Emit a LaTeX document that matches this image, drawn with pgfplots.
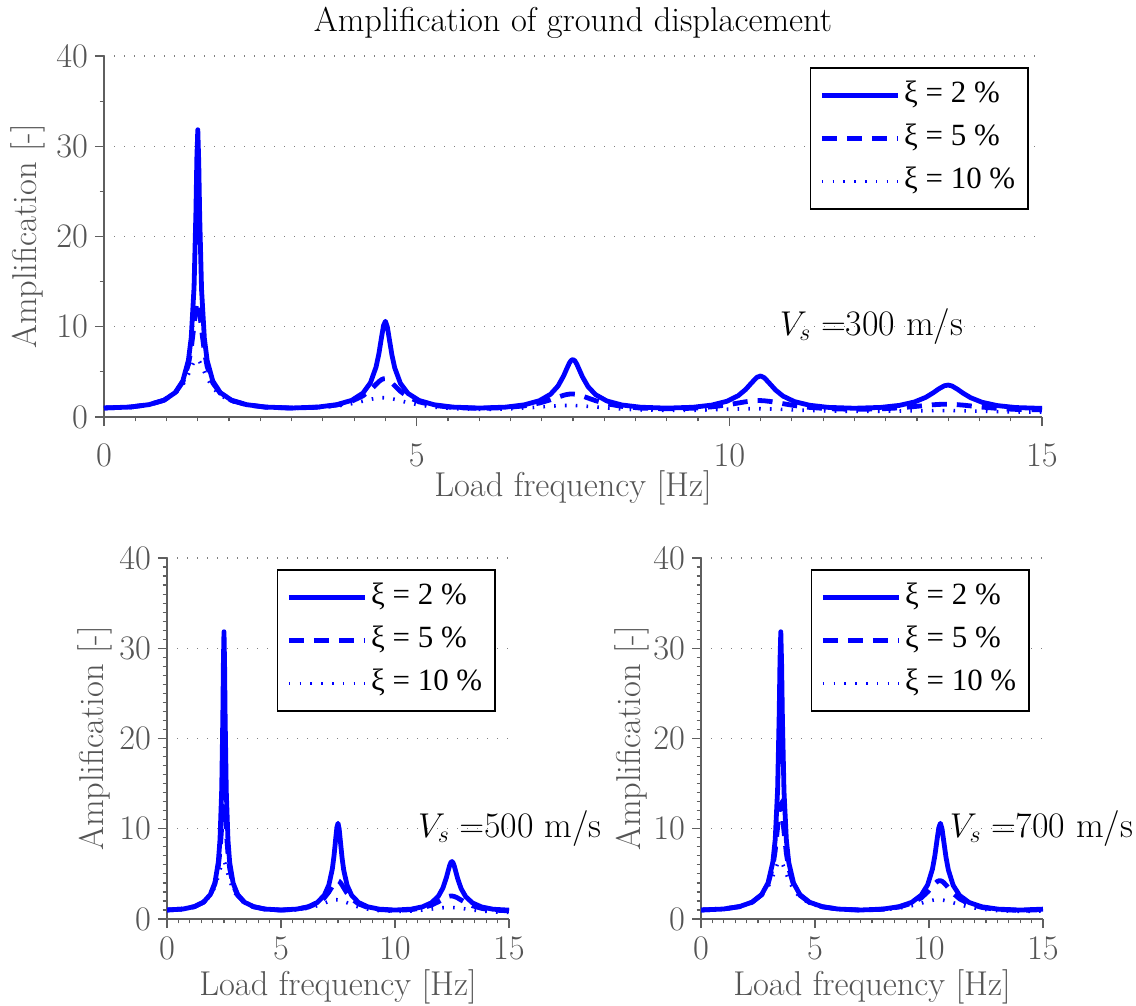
\documentclass[border=0pt]{standalone}
\usepackage{fontspec}
\usepackage{pgfplots}
\usepackage{pgfplotstable}
\pgfplotsset{compat=1.18}
\newfontfamily\timesfont{Liberation Serif}

\definecolor{axgray}{RGB}{95,95,95}
\definecolor{labgray}{RGB}{85,85,85}

% amplification |F| sampled at kH/pi = t ; f3, f5, f7 = load frequency for Vs = 300, 500, 700 m/s
\pgfplotstableread{
t f3 f5 f7 a2 a5 a10
0 0 0 0 1 1 1
0.14 0.42 0.70 0.98 1.1051 1.1049 1.1039
0.24 0.72 1.20 1.68 1.3715 1.3700 1.3645
0.32 0.96 1.60 2.24 1.8650 1.8581 1.8343
0.38 1.14 1.90 2.66 2.7108 2.6814 2.5840
0.42 1.26 2.10 2.94 3.9986 3.8866 3.5521
0.45 1.35 2.25 3.15 6.2905 5.8254 4.7427
0.465 1.395 2.325 3.255 8.806 7.586 5.473
0.48 1.44 2.40 3.36 14.356 10.191 6.122
0.49 1.47 2.45 3.43 22.736 12.029 6.365
0.495 1.485 2.475 3.465 28.70 12.606 6.398
0.5 1.5 2.5 3.5 31.831 12.732 6.366
0.505 1.515 2.525 3.535 28.245 12.366 6.273
0.51 1.53 2.55 3.57 22.286 11.621 6.125
0.52 1.56 2.60 3.64 14.128 9.706 5.714
0.535 1.605 2.675 3.745 8.713 7.235 4.982
0.55 1.65 2.75 3.85 6.242 5.596 4.290
0.58 1.74 2.90 4.06 3.9786 3.7757 3.2436
0.62 1.86 3.10 4.34 2.7014 2.6261 2.4011
0.68 2.04 3.40 4.76 1.8604 1.8303 1.7336
0.76 2.28 3.80 5.32 1.3689 1.3538 1.3037
0.86 2.58 4.30 6.02 1.1032 1.0931 1.0590
1.0 3 5 7 0.9980 0.9879 0.9540
1.14 3.42 5.70 7.98 1.1017 1.0842 1.0276
1.24 3.72 6.20 8.68 1.3640 1.3253 1.2099
1.32 3.96 6.60 9.24 1.8443 1.7405 1.4759
1.38 4.14 6.90 9.66 2.6441 2.3408 1.7583
1.42 4.26 7.10 9.94 3.7848 2.9934 1.9579
1.45 4.35 7.25 10.15 5.5239 3.6191 2.0762
1.465 4.395 7.325 10.255 6.9818 3.9224 2.1135
1.48 4.44 7.40 10.36 8.9123 4.1527 2.1314
1.49 4.47 7.45 10.43 10.127 4.2347 2.1315
1.5 4.5 7.5 10.5 10.610 4.2441 2.1221
1.51 4.53 7.55 10.57 10.006 4.1795 2.1034
1.52 4.56 7.60 10.64 8.7492 4.0506 2.0763
1.535 4.605 7.675 10.745 6.8449 3.7748 2.0220
1.55 4.65 7.75 10.85 5.4267 3.4555 1.9552
1.58 4.74 7.90 11.06 3.7345 2.8462 1.8012
1.62 4.86 8.10 11.34 2.6182 2.2346 1.5921
1.68 5.04 8.40 11.76 1.8311 1.6742 1.3296
1.76 5.28 8.80 12.32 1.3563 1.2827 1.0930
1.86 5.58 9.30 13.02 1.0961 1.0517 0.9284
2.0 6 10 14 0.9922 0.9540 0.8467
2.14 6.42 10.70 14.98 1.0932 1.0360 0.8871
2.142857 6.428571 10.714286 15 1.0977 1.0397 0.8891
2.24 6.72 11.20 15.68 1.3469 1.2354 0.9870
2.32 6.96 11.60 16.24 1.8008 1.5432 1.1054
2.38 7.14 11.90 16.66 2.5167 1.9060 1.1999
2.42 7.26 12.10 16.94 3.4306 2.2014 1.2501
2.45 7.35 12.25 17.15 4.5563 2.4072 1.2732
2.465 7.395 12.325 17.255 5.2683 2.4848 1.2785
2.48 7.44 12.40 17.36 5.9524 2.5343 1.2794
2.49 7.47 12.45 17.43 6.2668 2.5485 1.2773
2.5 7.5 12.5 17.5 6.3662 2.5465 1.2732
2.51 7.53 12.55 17.57 6.2187 2.5283 1.2672
2.52 7.56 12.60 17.64 5.8709 2.4951 1.2592
2.535 7.605 12.675 17.745 5.1701 2.4211 1.2439
2.55 7.65 12.75 17.85 4.4658 2.3255 1.2251
2.58 7.74 12.90 18.06 3.3686 2.1031 1.1795
2.62 7.86 13.10 18.34 2.4798 1.8110 1.1091
2.68 8.04 13.40 18.76 1.7804 1.4675 1.0020
2.76 8.28 13.80 19.32 1.3346 1.1790 0.8828
2.86 8.58 14.30 20.02 1.0840 0.9899 0.7842
3.0 9 15 21 0.9827 0.9046 0.7277
3.14 9.42 15.70 21.98 1.0798 0.9704 0.7471
3.24 9.72 16.20 22.68 1.3213 1.1248 0.7987
3.32 9.96 16.60 23.24 1.7391 1.3374 0.8528
3.38 10.14 16.90 23.66 2.3530 1.5478 0.8898
3.42 10.26 17.10 23.94 3.0426 1.6892 0.9068
3.45 10.35 17.25 24.15 3.7408 1.7729 0.9132
3.48 10.44 17.40 24.36 4.3958 1.8174 0.9132
3.5 10.5 17.5 24.5 4.5473 1.8189 0.9095
3.52 10.56 17.60 24.64 4.3496 1.7970 0.9028
3.55 10.65 17.75 24.85 3.6705 1.7266 0.8880
3.58 10.74 17.90 25.06 2.9822 1.6263 0.8682
3.62 10.86 18.10 25.34 2.3110 1.4763 0.8366
3.68 11.04 18.40 25.76 1.7136 1.2687 0.7848
3.76 11.28 18.80 26.32 1.3050 1.0659 0.7204
3.86 11.58 19.30 27.02 1.0675 0.9181 0.6609
4.0 12 20 28 0.9698 0.8467 0.6227
4.14 12.42 20.70 28.98 1.0622 0.8974 0.6312
4.24 12.72 21.20 29.68 1.2885 1.0128 0.6586
4.32 12.96 21.60 30.24 1.6649 1.1566 0.6854
4.38 13.14 21.90 30.66 2.1757 1.2816 0.7021
4.42 13.26 22.10 30.94 2.6825 1.3560 0.7089
4.45 13.35 22.25 31.15 3.1212 1.3961 0.7109
4.48 13.44 22.40 31.36 3.4674 1.4154 0.7098
4.5 13.5 22.5 31.5 3.5368 1.4147 0.7074
4.52 13.56 22.60 31.64 3.4381 1.4030 0.7035
4.55 13.65 22.75 31.85 3.0686 1.3668 0.6954
4.58 13.74 22.90 32.06 2.6292 1.3137 0.6848
4.62 13.86 23.10 32.34 2.1331 1.2289 0.6678
4.68 14.04 23.40 32.76 1.6361 1.0993 0.6390
4.76 14.28 23.80 33.32 1.2691 0.9576 0.6011
4.86 14.58 24.30 34.02 1.0472 0.8447 0.5635
5.0 15 25 35 0.9540 0.7864 0.5370
}\amp

\tikzset{vs/.style={anchor=west, inner sep=0pt, font=\fontsize{18}{20}\selectfont}}

\pgfplotsset{
  ampax/.style={
    scale only axis, height=180.5bp,
    xmin=0, xmax=15, ymin=0, ymax=40,
    xtick={0,5,10,15}, ytick={0,10,20,30,40},
    minor x tick num=9,
    clip mode=individual,
    axis x line*=bottom, axis y line*=left,
    axis line style={draw=axgray, line width=0.6bp, -},
    tick align=outside,
    major tick length=4.5bp, minor tick length=2.2bp,
    tick style={draw=axgray, line width=0.6bp},
    ymajorgrids,
    major grid style={draw=gray, line width=0.6bp, dash pattern=on 0.6bp off 4.4bp},
    tick label style={font=\fontsize{17.3}{18}\selectfont, text=labgray},
    label style={font=\fontsize{17.3}{18}\selectfont, text=labgray},
    xlabel={Load frequency [Hz]}, ylabel={Amplification [-]},
    ylabel style={at={(axis description cs:0,0.5)}, anchor=center},
    legend cell align=left,
    legend style={at={(1,1)}, anchor=north east, xshift=-6.5bp, yshift=-5.5bp,
      draw=black, line width=0.8bp, fill=white,
      font=\fontsize{15.5}{16}\selectfont,
      inner xsep=4.5bp, inner ysep=4bp,
      nodes={text height=11.5bp, text depth=4bp, inner sep=2bp},
      row sep=2bp},
    legend image code/.code={\draw[##1] (0bp,0bp) -- (38bp,0bp);},
  },
  s2/.style={blue, line width=2.4bp, line join=round},
  s5/.style={blue, line width=2.4bp, dash pattern=on 7.5bp off 5bp},
  s10/.style={blue, line width=1.8bp, dash pattern=on 0.8bp off 4.6bp},
}

\newcommand{\xiLegend}{\legend{{\timesfont ξ = 2 \%\hspace{3bp}}, {\timesfont ξ = 5 \%\hspace{3bp}}, {\timesfont ξ = 10 \%\hspace{3bp}}}}

\begin{document}
\begin{tikzpicture}
\useasboundingbox (0,0) rectangle (568bp,-503bp);

\begin{axis}[ampax, width=469bp, at={(52bp,-208.5bp)}, anchor=south west,
  minor y tick num=1,
  xticklabel style={yshift=-5.5bp},
  xlabel style={at={(axis description cs:0.5,0)}, anchor=base, yshift=-39.5bp},
  ylabel style={yshift=38bp},
  title={Amplification of ground displacement},
  title style={at={(axis description cs:0.5,1)}, anchor=base, yshift=6.5bp,
    font=\fontsize{17.3}{19}\selectfont, text=black}]
\addplot[s2] table[x=f3, y=a2] {\amp};
\addplot[s5] table[x=f3, y=a5] {\amp};
\addplot[s10] table[x=f3, y=a10] {\amp};
\xiLegend
\node[vs] at (axis cs:10.8,10) {$V_s =$300 m/s};
\end{axis}

\begin{axis}[ampax, width=171bp, at={(83.5bp,-459.5bp)}, anchor=south west,
  minor y tick num=9,
  xticklabel style={yshift=-1bp},
  xlabel style={at={(axis description cs:0.5,0)}, anchor=base, yshift=-38bp},
  ylabel style={yshift=36bp}]
\addplot[s2, restrict x to domain=0:15] table[x=f5, y=a2] {\amp};
\addplot[s5, restrict x to domain=0:15] table[x=f5, y=a5] {\amp};
\addplot[s10, restrict x to domain=0:15] table[x=f5, y=a10] {\amp};
\xiLegend
\node[vs] at (axis cs:11.0,10) {$V_s =$500 m/s};
\end{axis}

\begin{axis}[ampax, width=171bp, at={(350.5bp,-459.5bp)}, anchor=south west,
  minor y tick num=9,
  xticklabel style={yshift=-1bp},
  xlabel style={at={(axis description cs:0.5,0)}, anchor=base, yshift=-38bp},
  ylabel style={yshift=34.5bp}]
\addplot[s2, restrict x to domain=0:15] table[x=f7, y=a2] {\amp};
\addplot[s5, restrict x to domain=0:15] table[x=f7, y=a5] {\amp};
\addplot[s10, restrict x to domain=0:15] table[x=f7, y=a10] {\amp};
\xiLegend
\node[vs] at (axis cs:10.9,10) {$V_s =$700 m/s};
\end{axis}
\end{tikzpicture}
\end{document}
